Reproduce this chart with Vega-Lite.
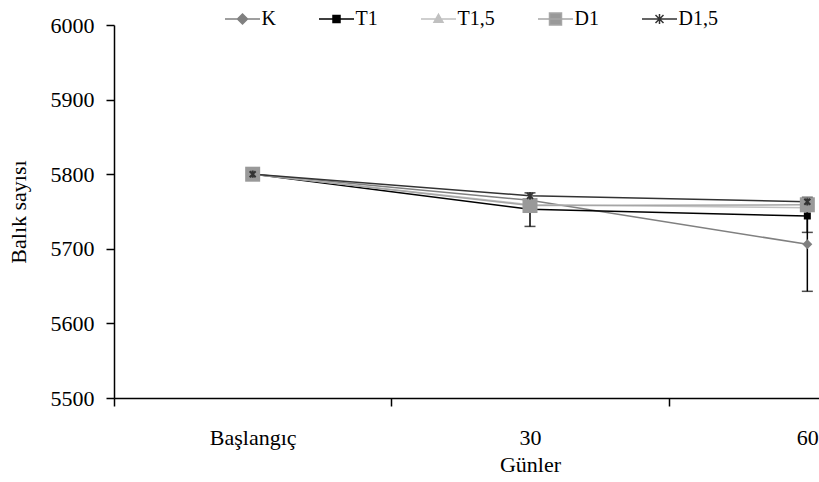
{
  "$schema": "https://vega.github.io/schema/vega-lite/v6.json",
  "autosize": {"type": "none"},
  "width": 705,
  "height": 373,
  "padding": {"left": 114, "top": 25, "right": 0, "bottom": 84},
  "background": "white",
  "config": {
    "view": {"stroke": null},
    "font": "Liberation Serif",
    "axis": {
      "labelFont": "Liberation Serif",
      "titleFont": "Liberation Serif",
      "labelFontSize": 22,
      "titleFontSize": 22,
      "titleFontWeight": "normal",
      "labelColor": "black",
      "titleColor": "black",
      "domainColor": "black",
      "tickColor": "black",
      "domainWidth": 1.5,
      "tickWidth": 1.5,
      "tickSize": 8,
      "grid": false
    },
    "legend": {
      "labelFont": "Liberation Serif",
      "labelFontSize": 20,
      "labelColor": "black"
    }
  },
  "datasets": {
    "main": [
      {"day": "Başlangıç", "series": "K", "value": 5800},
      {"day": "30", "series": "K", "value": 5765},
      {"day": "60", "series": "K", "value": 5706},
      {"day": "Başlangıç", "series": "T1", "value": 5800},
      {"day": "30", "series": "T1", "value": 5753},
      {"day": "60", "series": "T1", "value": 5744},
      {"day": "Başlangıç", "series": "T1,5", "value": 5800},
      {"day": "30", "series": "T1,5", "value": 5759},
      {"day": "60", "series": "T1,5", "value": 5755},
      {"day": "Başlangıç", "series": "D1", "value": 5800},
      {"day": "30", "series": "D1", "value": 5758},
      {"day": "60", "series": "D1", "value": 5759},
      {"day": "Başlangıç", "series": "D1,5", "value": 5800},
      {"day": "30", "series": "D1,5", "value": 5771},
      {"day": "60", "series": "D1,5", "value": 5763}
    ],
    "err": [
      {"day": "30", "series": "T1", "lo": 5730, "hi": 5775},
      {"day": "60", "series": "T1", "lo": 5722, "hi": 5766},
      {"day": "60", "series": "K", "lo": 5643, "hi": 5769}
    ]
  },
  "encoding": {
    "x": {
      "field": "day",
      "type": "nominal",
      "sort": ["Başlangıç", "30", "60"],
      "scale": {"type": "band", "domain": ["Başlangıç", "30", "60"], "range": [0, 832], "paddingInner": 0, "paddingOuter": 0},
      "axis": {"title": "Günler", "labelAngle": 0, "tickBand": "extent", "labelPadding": 21, "titlePadding": 6}
    }
  },
  "layer": [
    {
      "data": {"name": "main"},
      "mark": {"type": "line", "strokeWidth": 1.5},
      "encoding": {
        "y": {
          "field": "value",
          "type": "quantitative",
          "scale": {"domain": [5500, 6000], "nice": false, "zero": false},
          "axis": {"title": "Balık sayısı", "format": "d", "values": [5500, 5600, 5700, 5800, 5900, 6000], "labelPadding": 12, "titlePadding": 20}
        },
        "color": {
          "field": "series",
          "type": "nominal",
          "scale": {"domain": ["K", "T1", "T1,5", "D1", "D1,5"], "range": ["#808080", "#000000", "#c0c0c0", "#a6a6a6", "#333333"]},
          "legend": null
        }
      }
    },
    {
      "data": {"name": "err"},
      "mark": {"type": "rule", "color": "black", "strokeWidth": 1.5},
      "encoding": {
        "y": {"field": "lo", "type": "quantitative"},
        "y2": {"field": "hi"}
      }
    },
    {
      "data": {"name": "err"},
      "mark": {"type": "tick", "color": "black", "size": 11, "thickness": 1.5, "orient": "horizontal"},
      "encoding": {"y": {"field": "lo", "type": "quantitative"}}
    },
    {
      "data": {"name": "err"},
      "mark": {"type": "tick", "color": "black", "size": 11, "thickness": 1.5, "orient": "horizontal"},
      "encoding": {"y": {"field": "hi", "type": "quantitative"}}
    },
    {
      "data": {"name": "main"},
      "transform": [{"filter": "datum.series === 'K'"}],
      "mark": {"type": "point", "filled": true, "opacity": 1, "color": "#808080", "shape": "diamond", "size": 100, "strokeWidth": 0},
      "encoding": {"y": {"field": "value", "type": "quantitative"}}
    },
    {
      "data": {"name": "main"},
      "transform": [{"filter": "datum.series === 'T1'"}],
      "mark": {"type": "point", "filled": true, "opacity": 1, "color": "#000000", "shape": "square", "size": 49, "strokeWidth": 0},
      "encoding": {"y": {"field": "value", "type": "quantitative"}}
    },
    {
      "data": {"name": "main"},
      "transform": [{"filter": "datum.series === 'T1,5'"}],
      "mark": {"type": "point", "filled": true, "opacity": 1, "color": "#c0c0c0", "shape": "triangle-up", "size": 90, "strokeWidth": 0},
      "encoding": {"y": {"field": "value", "type": "quantitative"}}
    },
    {
      "data": {"name": "main"},
      "transform": [{"filter": "datum.series === 'D1'"}],
      "mark": {"type": "point", "filled": true, "opacity": 1, "color": "#999999", "shape": "square", "size": 225, "strokeWidth": 0},
      "encoding": {"y": {"field": "value", "type": "quantitative"}}
    },
    {
      "data": {"name": "main"},
      "transform": [{"filter": "datum.series === 'D1,5'"}],
      "mark": {"type": "point", "filled": false, "opacity": 1, "color": "#333333", "strokeWidth": 2, "size": 36, "shape": "M-1,-1L1,1M-1,1L1,-1M0,-1.2V1.2"},
      "encoding": {"y": {"field": "value", "type": "quantitative"}}
    },
    {
      "data": {"name": "main"},
      "mark": {"type": "point", "filled": true, "opacity": 0},
      "encoding": {
        "y": {"field": "value", "type": "quantitative"},
        "fill": {
          "field": "series",
          "type": "nominal",
          "scale": {"domain": ["K", "T1", "T1,5", "D1", "D1,5"], "range": ["#808080", "#000000", "#c0c0c0", "#999999", "#333333"]},
          "legend": {
            "title": null, "orient": "none", "direction": "horizontal", "legendX": 106, "legendY": -16,
            "symbolSize": 100, "symbolStrokeWidth": 1.5, "symbolOffset": 12.5, "labelOffset": 9, "columnPadding": 38, "padding": 0, "symbolOpacity": 1
          }
        },
        "stroke": {
          "field": "series",
          "type": "nominal",
          "scale": {"domain": ["K", "T1", "T1,5", "D1", "D1,5"], "range": ["#808080", "#000000", "#c0c0c0", "#a6a6a6", "#333333"]},
          "legend": {
            "title": null, "orient": "none", "direction": "horizontal", "legendX": 106, "legendY": -16,
            "symbolSize": 100, "symbolStrokeWidth": 1.5, "symbolOffset": 12.5, "labelOffset": 9, "columnPadding": 38, "padding": 0, "symbolOpacity": 1
          }
        },
        "shape": {
          "field": "series",
          "type": "nominal",
          "scale": {
            "domain": ["K", "T1", "T1,5", "D1", "D1,5"],
            "range": [
              "M-3.5,0H3.5M0,-1L1,0L0,1L-1,0Z",
              "M-3.5,0H3.5M-0.7,-0.7H0.7V0.7H-0.7Z",
              "M-3.5,0H3.5M0,-0.95L0.9,0.65L-0.9,0.65Z",
              "M-3.5,0H3.5M-1.2,-1.2H1.2V1.2H-1.2Z",
              "M-3.5,0H3.5M-0.8,-0.8L0.8,0.8M-0.8,0.8L0.8,-0.8M0,-1V1"
            ]
          },
          "legend": {
            "title": null, "orient": "none", "direction": "horizontal", "legendX": 106, "legendY": -16,
            "symbolSize": 100, "symbolStrokeWidth": 1.5, "symbolOffset": 12.5, "labelOffset": 9, "columnPadding": 38, "padding": 0, "symbolOpacity": 1
          }
        }
      }
    }
  ],
  "resolve": {"scale": {"shape": "independent", "fill": "independent", "stroke": "independent"}}
}
